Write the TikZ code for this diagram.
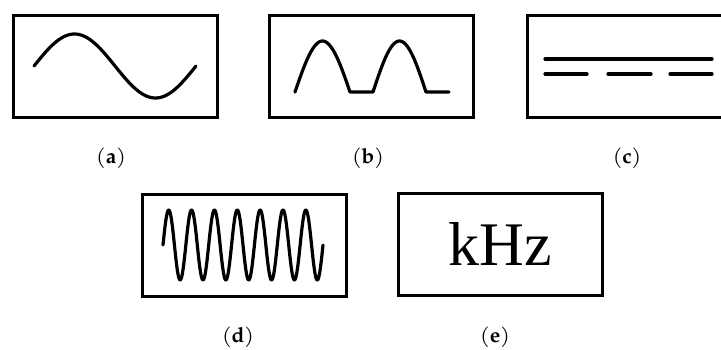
\documentclass[tikz,border=0pt]{standalone}
\usepackage{fontspec}
\setmainfont{TeX Gyre Pagella}
\newfontfamily\unitfont{Liberation Serif}
\usepackage{tikz}
\usetikzlibrary{positioning}

\tikzset{
  panel/.style={draw, line width=3pt, minimum width=204pt, minimum height=102pt, inner sep=0pt},
  wave/.style={line width=3.2pt, line cap=round, line join=round},
  tag/.style={font=\fontsize{21}{24}\selectfont, inner sep=0pt}
}

\begin{document}
\begin{tikzpicture}[x=1pt, y=-1pt]
    \clip (0,0) rectangle (721,349);
    % Panels
    \node[panel] (boxA) at (115.5, 66) {};
    \node[panel] (boxB) at (371.5, 66) {};
    \node[panel] (boxC) at (629, 66) {};
    \node[panel] (boxD) at (244.5, 245) {};
    \node[panel, font=\unitfont\fontsize{62}{62}\selectfont] (boxE) at (500, 244) {kHz};
    % (a) one period of a sine
    \draw[wave] plot[domain=0:360, samples=80] ({34+\x/360*162}, {66-32*sin(\x)});
    % (b) rectified humps
    \draw[wave] plot[domain=0:180, samples=40] ({295+\x/180*55}, {92-51*sin(\x)})
        -- (373, 92)
        -- plot[domain=0:180, samples=40] ({373+\x/180*53}, {92-51*sin(\x)})
        -- (449, 92);
    % (c) solid and dashed lines
    \draw[wave] (545, 59) -- (712, 59);
    \foreach \a/\b in {545/587, 608/651, 670/712}
      \draw[wave] (\a, 74) -- (\b, 74);
    % (d) high frequency sine
    \draw[wave] plot[domain=0:2520, samples=300] ({163+\x/2520*160}, {245-35*sin(\x)});
    % Captions
    \node[tag] (capA) at (111, 158) {(\textbf{a})};
    \node[tag] (capB) at (368, 158) {(\textbf{b})};
    \node[tag] (capC) at (627, 158) {(\textbf{c})};
    \node[tag] (capD) at (238, 337) {(\textbf{d})};
    \node[tag] (capE) at (495, 337) {(\textbf{e})};
\end{tikzpicture}
\end{document}
